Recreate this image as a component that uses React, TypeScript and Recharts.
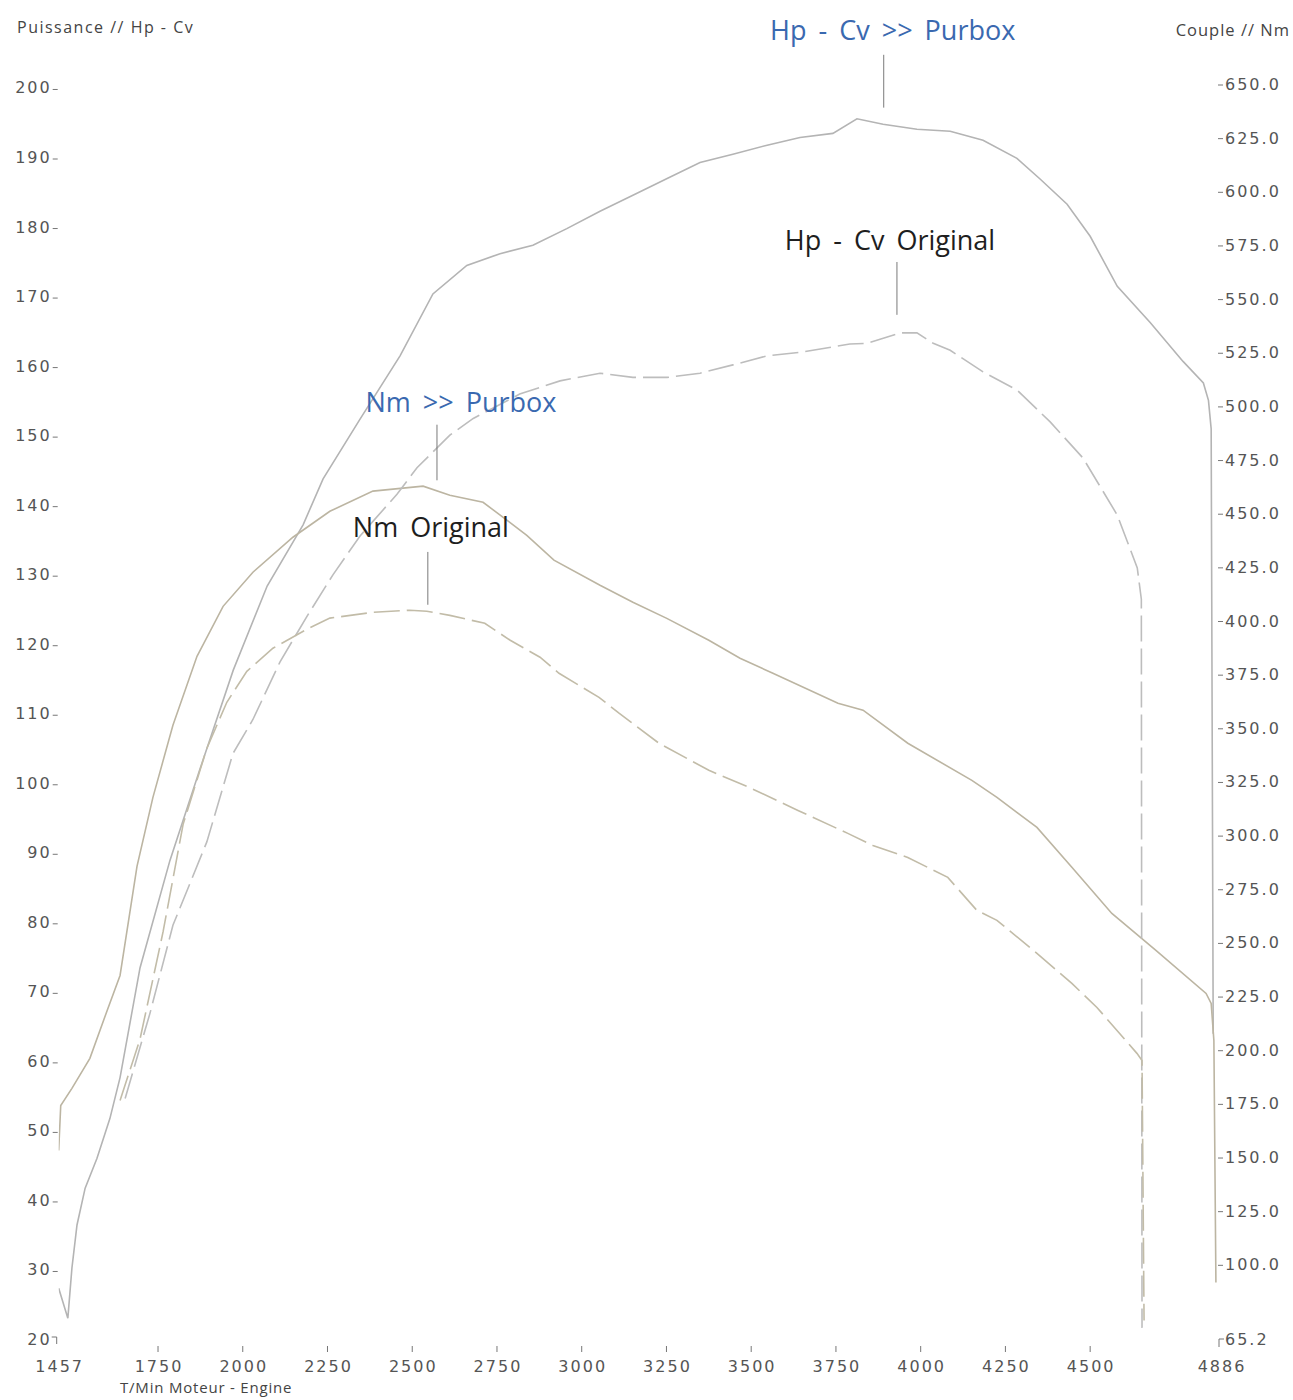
import React from 'react';
import { LineChart, Line, XAxis, YAxis, ReferenceLine } from 'recharts';

// ---------- axis ticks ----------
const rpmTicks = [1457, 1750, 2000, 2250, 2500, 2750, 3000, 3250, 3500, 3750, 4000, 4250, 4500, 4886];
const hpTicks = [20, 30, 40, 50, 60, 70, 80, 90, 100, 110, 120, 130, 140, 150, 160, 170, 180, 190, 200];
const nmTicks = [65.2, 100, 125, 150, 175, 200, 225, 250, 275, 300, 325, 350, 375, 400, 425, 450, 475, 500, 525, 550, 575, 600, 625, 650];

// ---------- series: [rpm, value] ----------
const hpPurbox: [number, number][] = [
  [1457, 27.3], [1484, 23.0], [1496, 30.2], [1511, 36.4], [1535, 41.7], [1570, 46.0], [1608, 51.7], [1638, 57.6],
  [1697, 73.4], [1785, 88.8], [1874, 102.0], [1972, 116.2], [2072, 128.3], [2178, 137.1], [2237, 143.7], [2346, 152.3],
  [2464, 161.4], [2561, 170.3], [2661, 174.4], [2759, 176.1], [2856, 177.3], [2956, 179.7], [3054, 182.2], [3151, 184.5],
  [3252, 186.9], [3349, 189.2], [3446, 190.4], [3547, 191.7], [3644, 192.8], [3741, 193.4], [3812, 195.5], [3889, 194.7],
  [3989, 194.0], [4087, 193.7], [4184, 192.4], [4284, 189.8], [4353, 186.8], [4432, 183.2], [4500, 178.6], [4580, 171.4],
  [4677, 166.2], [4774, 160.6], [4834, 157.5], [4849, 155.0], [4857, 150.9], [4863, 63.9],
];

const nmPurbox: [number, number][] = [
  [1457, 153], [1463, 174], [1496, 182], [1549, 196], [1600, 218.3], [1638, 234.6], [1688, 285.4], [1735, 317.6],
  [1794, 351.2], [1865, 383.3], [1942, 406.6], [2030, 422.5], [2148, 438.8], [2257, 450.9], [2384, 460.3], [2532, 462.6],
  [2611, 458.4], [2709, 455.1], [2838, 439.7], [2918, 428.1], [3054, 416.4], [3151, 408.5], [3251, 401], [3375, 390.8],
  [3467, 382.4], [3564, 375.4], [3756, 361.4], [3830, 358.2], [3962, 342.8], [4151, 325.5], [4225, 317.6], [4343, 303.6],
  [4446, 285], [4564, 263.5], [4694, 246.3], [4842, 226.2], [4857, 221.6], [4865, 204.3], [4871, 91.5],
];

const hpOriginal: [number, number][] = [
  [1653, 54.6], [1726, 66.8], [1794, 79.5], [1894, 91.5], [1971, 104.2], [2030, 109.1], [2110, 117.4], [2189, 123.9],
  [2266, 129.9], [2346, 135.5], [2455, 141.5], [2514, 145.3], [2611, 150], [2680, 152.4], [2817, 155.9], [2936, 157.8],
  [3054, 158.9], [3151, 158.3], [3252, 158.3], [3349, 158.9], [3446, 160.1], [3547, 161.4], [3644, 161.9], [3791, 163.1],
  [3841, 163.2], [3939, 164.7], [3989, 164.7], [4037, 163.2], [4087, 162.2], [4184, 159.1], [4284, 156.5], [4382, 151.9],
  [4479, 146.7], [4580, 138.5], [4639, 130.9], [4651, 126.4], [4653, 21.6],
];

const nmOriginal: [number, number][] = [
  [1638, 176.3], [1697, 205], [1765, 255], [1824, 305], [1894, 340.4], [1953, 361.9], [2012, 376.3], [2089, 387.1],
  [2189, 395.9], [2257, 401.1], [2384, 403.8], [2493, 404.8], [2543, 404.3], [2611, 402.4], [2714, 398.7], [2789, 390.8],
  [2877, 382.9], [2933, 375.4], [3051, 364.2], [3110, 356.8], [3228, 342.8], [3375, 330.2], [3493, 322.3], [3638, 311.5],
  [3785, 300.8], [3859, 295.2], [3962, 289.6], [4080, 280.3], [4166, 264.9], [4225, 260.3], [4343, 244.9], [4446, 230.9],
  [4520, 219.7], [4638, 198.3], [4653, 195], [4659, 73.8],
];

// ---------- annotations (anchored in rpm / hp units) ----------
const annotations = [
  { text: 'Hp - Cv >> Purbox', rpm: 3891, top: 204.7, bottom: 197.1, color: '#3a69b0', dx: 9, gap: 15 },
  { text: 'Hp - Cv Original', rpm: 3930, top: 174.9, bottom: 167.3, color: '#1e1e1e', dx: -7, gap: 12 },
  { text: 'Nm >> Purbox', rpm: 2573, top: 151.5, bottom: 143.5, color: '#3a69b0', dx: 24, gap: 13 },
  { text: 'Nm Original', rpm: 2546, top: 133.2, bottom: 125.6, color: '#1e1e1e', dx: 3, gap: 15 },
];

const toRows = (pairs: [number, number][]) => pairs.map(([rpm, v]) => ({ rpm, v }));

const tickFont = { fontFamily: 'DejaVu Sans', fontSize: 16, letterSpacing: 2, fill: '#555' };

const HpTick = (props: any) => {
  const { x, y, payload } = props;
  const v = payload.value;
  return (
    <g>
      <text x={x - 7} y={y + 6} textAnchor="end" {...tickFont}>{v}</text>
      {v === 20 ? (
        <path d={`M${x - 7} ${y - 2} H${x - 2} V${y + 5}`} stroke="#777" fill="none" strokeWidth={1} />
      ) : (
        <line x1={x - 6} x2={x - 1} y1={y + 2} y2={y + 2} stroke="#777" strokeWidth={1} />
      )}
    </g>
  );
};

const NmTick = (props: any) => {
  const { x, y, payload } = props;
  const v = payload.value;
  const label = v === 65.2 ? '65.2' : Number(v).toFixed(1);
  return (
    <g>
      {v === 65.2 ? (
        <path d={`M${x - 2} ${y + 8} V${y} H${x + 3}`} stroke="#777" fill="none" strokeWidth={1} />
      ) : (
        <line x1={x - 3} x2={x + 2} y1={y + 1} y2={y + 1} stroke="#777" strokeWidth={1} />
      )}
      <text x={x + 4} y={y + 6} textAnchor="start" {...tickFont}>{label}</text>
    </g>
  );
};

const RpmTick = (props: any) => {
  const { x, y, payload } = props;
  const v = payload.value;
  return (
    <g>
      {v !== 1457 && v !== 4886 && (
        <line x1={x} x2={x} y1={y + 7} y2={y + 13} stroke="#777" strokeWidth={1} />
      )}
      <text x={x + 1} y={y + 33} textAnchor="middle" {...tickFont}>{v}</text>
    </g>
  );
};

const makeLabel = (a: typeof annotations[number]) => (p: any) => {
  const vb = p.viewBox || {};
  const x = vb.x ?? vb.x1;
  const y = vb.y ?? Math.min(vb.y1, vb.y2);
  return (
    <text
      x={x + a.dx}
      y={y - a.gap}
      textAnchor="middle"
      fill={a.color}
      fontFamily="Open Sans"
      fontSize={27}
      wordSpacing={5}
    >
      {a.text}
    </text>
  );
};

const W = 1293;
const H = 1400;

export default function App() {
  return (
    <div style={{ position: 'absolute', left: 0, top: 0, width: W, height: H, background: '#fff' }}>
      <LineChart width={W} height={H} margin={{ top: 84, right: 0, bottom: 21, left: 8.7 }}>
        <XAxis
          dataKey="rpm"
          type="number"
          domain={[1457, 4886]}
          allowDataOverflow
          ticks={rpmTicks}
          interval={0}
          height={40}
          axisLine={false}
          tickLine={false}
          tickSize={0}
          tickMargin={0}
          tick={<RpmTick />}
        />
        <YAxis
          yAxisId="hp"
          orientation="left"
          domain={[20, 200.5]}
          allowDataOverflow
          ticks={hpTicks}
          interval={0}
          width={50}
          axisLine={false}
          tickLine={false}
          tickSize={0}
          tickMargin={0}
          tick={<HpTick />}
        />
        <YAxis
          yAxisId="nm"
          orientation="right"
          domain={[65.2, 650]}
          allowDataOverflow
          ticks={nmTicks}
          interval={0}
          width={72}
          axisLine={false}
          tickLine={false}
          tickSize={0}
          tickMargin={0}
          tick={<NmTick />}
        />
        <Line
          yAxisId="hp"
          data={toRows(hpPurbox)}
          dataKey="v"
          type="linear"
          stroke="#b4b4b4"
          strokeWidth={1.6}
          dot={false}
          isAnimationActive={false}
        />
        <Line
          yAxisId="nm"
          data={toRows(nmPurbox)}
          dataKey="v"
          type="linear"
          stroke="#bcb5a2"
          strokeWidth={1.6}
          dot={false}
          isAnimationActive={false}
        />
        <Line
          yAxisId="hp"
          data={toRows(hpOriginal)}
          dataKey="v"
          type="linear"
          stroke="#bdbdbd"
          strokeWidth={1.6}
          strokeDasharray="26 7"
          dot={false}
          isAnimationActive={false}
        />
        <Line
          yAxisId="nm"
          data={toRows(nmOriginal)}
          dataKey="v"
          type="linear"
          stroke="#c2bca8"
          strokeWidth={1.6}
          strokeDasharray="26 7"
          dot={false}
          isAnimationActive={false}
        />
        {annotations.map((a) => (
          <ReferenceLine
            key={a.text}
            yAxisId="hp"
            ifOverflow="visible"
            segment={[{ x: a.rpm, y: a.top }, { x: a.rpm, y: a.bottom }]}
            stroke="#7a7a7a"
            strokeWidth={1}
            label={{ content: makeLabel(a) }}
          />
        ))}
      </LineChart>
      <svg width={W} height={H} style={{ position: 'absolute', left: 0, top: 0, pointerEvents: 'none' }}>
        <text x={17} y={33} fontFamily="Open Sans" fontSize={16} letterSpacing={1.5} fill="#444">Puissance // Hp - Cv</text>
        <text x={1290} y={36} textAnchor="end" fontFamily="Open Sans" fontSize={16.5} letterSpacing={1} fill="#444">Couple // Nm</text>
        <text x={120} y={1393} fontFamily="Open Sans" fontSize={15} letterSpacing={0.8} fill="#444">T/Min Moteur - Engine</text>
      </svg>
    </div>
  );
}
